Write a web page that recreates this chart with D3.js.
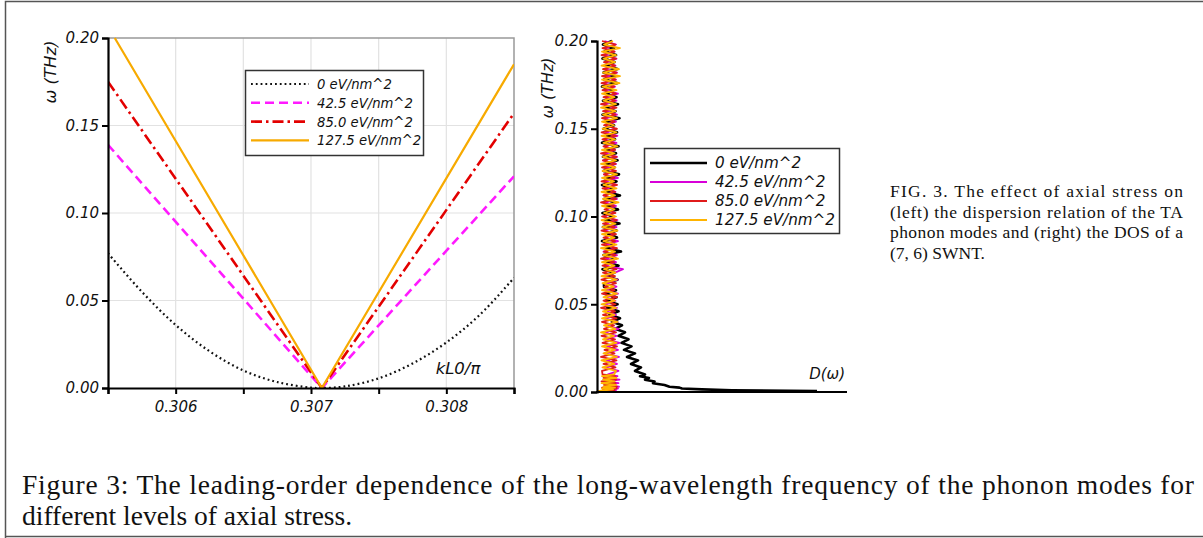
<!DOCTYPE html>
<html>
<head>
<meta charset="utf-8">
<script src="https://cdn.jsdelivr.net/npm/d3@7"></script>
<style>
  body { margin: 0; background: #fff; }
  svg text { font-family: 'DejaVu Sans', sans-serif; }
  .ax text { font-style: oblique; }
  .cap { font-family: 'Liberation Serif', 'Times New Roman', serif !important; fill: #111; }
</style>
</head>
<body>
<div id="app"></div>
<script>
(function (d3) {

  'use strict'

  // ---- left panel: dispersion relation ----
  const kTicks = [0.306, 0.307, 0.308]
  const kMinorTicks = [0.3055, 0.3065, 0.3075, 0.3085]
  const omegaTicks = [0, 0.05, 0.10, 0.15, 0.20]
  const stressLabels = ['0 eV/nm^2', '42.5 eV/nm^2', '85.0 eV/nm^2', '127.5 eV/nm^2']

  const kStress0 = [0.3055, 0.30575, 0.306, 0.30625, 0.3065, 0.30675, 0.307, 0.30708, 0.30725, 0.3075, 0.30775, 0.308, 0.30825, 0.3085]
  const wStress0 = [0.077, 0.055, 0.036, 0.021, 0.010, 0.0034, 0.0002, 0, 0.0009, 0.0055, 0.014, 0.026, 0.042, 0.063]
  const kStress1 = [0.3055, 0.30708, 0.3085]
  const wStress1 = [0.139, 0, 0.121]
  const kStress2 = [0.3055, 0.30708, 0.3085]
  const wStress2 = [0.175, 0, 0.157]
  const kStress3 = [0.30555, 0.30708, 0.3085]
  const wStress3 = [0.200, 0, 0.185]

  // ---- right panel: density of states ----
  const dosOmega = [0.0005, 0.001, 0.0015, 0.002, 0.0025, 0.003, 0.004, 0.005, 0.006, 0.007, 0.008, 0.009,
    0.010, 0.012, 0.014, 0.016, 0.018, 0.020, 0.022, 0.024, 0.026, 0.028, 0.030, 0.032, 0.034, 0.036, 0.038,
    0.040, 0.042, 0.044, 0.046, 0.048, 0.050, 0.052, 0.054, 0.056, 0.058, 0.060, 0.062, 0.064, 0.066, 0.068,
    0.070, 0.072, 0.074, 0.076, 0.078, 0.080, 0.082, 0.084, 0.086, 0.088, 0.090, 0.092, 0.094, 0.096, 0.098,
    0.100, 0.102, 0.104, 0.106, 0.108, 0.110, 0.112, 0.114, 0.116, 0.118, 0.120, 0.122, 0.124, 0.126, 0.128,
    0.130, 0.132, 0.134, 0.136, 0.138, 0.140, 0.142, 0.144, 0.146, 0.148, 0.150, 0.152, 0.154, 0.156, 0.158,
    0.160, 0.162, 0.164, 0.166, 0.168, 0.170, 0.172, 0.174, 0.176, 0.178, 0.180, 0.182, 0.184, 0.186, 0.188,
    0.190, 0.192, 0.194, 0.196, 0.198, 0.200]

  const dos0 = [44, 27, 21, 17, 16.5, 14.5, 13.5, 11.2, 11.5, 9.6, 10.4, 8.6, 9.6,
    7.6, 8.8, 6.8, 8.2, 6.0, 7.6, 5.4, 6.9, 4.9, 6.3, 4.3, 5.6, 3.6, 5.0, 3.0, 4.6, 2.5, 4.3, 2.0, 4.1, 1.8, 3.9, 1.5, 3.8, 1.4,
    1.4, 4.1, 1.9, 3.5, 1.1, 4.3, 2.0, 3.7, 1.3, 4.8, 1.7, 3.4, 1.0, 4.0, 2.2, 3.9, 1.2, 4.5, 1.6, 3.3,
    1.1, 4.2, 1.8, 3.6, 1.4, 4.6, 2.1, 3.2, 1.0, 3.9, 1.5, 4.4, 1.3, 3.5, 1.9, 4.1, 1.2, 3.8, 1.6, 4.3,
    1.0, 3.6, 2.0, 4.0, 1.3, 3.4, 1.7, 4.5, 1.1, 3.7, 1.5, 4.2, 1.2, 3.9, 1.8, 3.3, 1.0, 4.0, 1.4, 3.6,
    1.3, 4.1, 1.7, 3.5, 1.1, 3.8, 1.5, 3.4, 1.2, 3.0]
  const dos1 = [2.0, 3.8, 1.5, 4.2, 1.8, 4.4, 1.6, 4.3, 2.0, 4.5, 1.7, 4.1, 2.2,
    4.3, 1.6, 4.0, 1.9, 4.4, 1.5, 4.2, 2.0, 4.5, 1.7,
    3.9, 1.4, 4.3, 1.8, 4.1, 1.6, 3.8, 2.1, 4.0, 1.5,
    3.7, 1.9, 4.2, 1.4, 3.9, 1.7, 4.1, 1.3, 3.6, 5.2,
    1.5, 3.8, 1.8, 4.0, 1.3, 3.7, 1.9, 4.2, 1.6, 3.5,
    1.4, 3.9, 1.7, 4.1, 1.2, 3.6, 2.0, 3.8, 1.5, 4.0,
    1.3, 3.7, 1.8, 3.9, 1.6, 4.2, 1.4, 3.5, 1.9, 3.8,
    1.2, 4.0, 1.7, 3.6, 1.5, 3.9, 1.3, 4.1, 1.8, 3.7,
    1.6, 3.8, 1.4, 4.0, 1.9, 3.5, 1.3, 3.9, 1.7, 4.2,
    1.5, 3.6, 1.2, 3.8, 1.8, 4.0, 1.4, 3.7, 1.6, 3.9,
    1.3, 3.5, 1.7, 3.8, 1.5]
  const dos2 = [0.8, 3.5, 1.2, 3.9, 1.0, 4.0, 1.4, 3.7, 0.9, 3.8, 1.3, 3.6, 1.1,
    1.0, 3.7, 1.3, 3.9, 0.8, 3.5, 1.5, 4.0, 1.1, 3.6,
    0.9, 3.8, 1.4, 3.4, 1.0, 3.9, 1.2, 3.6, 0.8, 3.7,
    1.3, 4.0, 1.0, 3.5, 1.5, 3.8, 0.9, 3.6, 1.2, 3.9,
    1.1, 3.4, 0.8, 3.7, 1.4, 4.0, 1.0, 3.6, 1.3, 3.8,
    0.9, 3.5, 1.2, 3.9, 1.0, 3.7, 1.5, 3.4, 0.8, 3.8,
    1.3, 3.6, 1.1, 4.0, 0.9, 3.5, 1.4, 3.8, 1.0, 3.7,
    1.2, 3.9, 0.8, 3.6, 1.3, 3.4, 1.1, 3.8, 0.9, 4.0,
    1.4, 3.5, 1.0, 3.7, 1.2, 3.9, 0.8, 3.6, 1.3, 3.8,
    1.1, 3.4, 0.9, 3.7, 1.0,
    3.9, 1.2, 3.6, 1.4, 3.8, 0.9, 3.5, 1.1, 3.7, 1.0]
  const dos3 = [0.2, 1.5, 3.2, 1.0, 3.6, 1.3, 3.8, 0.9, 3.5, 1.2, 3.9, 1.0, 3.4,
    3.8, 1.1, 3.5, 0.9, 4.0, 1.3, 3.6, 1.0, 3.9, 1.2,
    3.4, 0.8, 3.7, 1.4, 4.1, 1.0, 3.5, 1.2, 3.8, 0.9,
    3.6, 1.3, 4.0, 1.0, 3.4, 1.1, 3.9, 0.9, 3.7, 1.4,
    3.5, 1.0, 4.2, 1.2, 3.6, 0.8, 3.9, 1.3, 3.5, 1.0,
    4.1, 1.1, 3.7, 0.9, 3.8, 1.4, 3.5, 1.0, 4.3, 1.2,
    3.6, 0.9, 3.9, 1.3, 3.4, 1.0, 4.0, 1.1, 3.7, 0.8,
    3.8, 1.2, 3.5, 1.0, 4.1, 1.3, 3.6, 0.9, 3.9, 1.1,
    3.4, 1.0, 4.0, 1.2, 3.7, 0.8, 3.8, 1.3, 3.5, 1.0,
    3.9, 1.1, 4.5, 1.0, 4.6, 1.2, 4.4, 0.9, 3.6, 1.3,
    3.8, 1.0, 4.6, 1.4, 3.2]

  const captionRight = ['FIG. 3. The effect of axial stress on', '(left) the dispersion relation of the TA',
    'phonon modes and (right) the DOS of a', '(7, 6) SWNT.']
  const captionBottom = ['Figure 3: The leading-order dependence of the long-wavelength frequency of the phonon modes for',
    'different levels of axial stress.']

  const W = 1203
  const H = 538

  const svg = d3.select('#app').append('svg')
    .attr('width', W)
    .attr('height', H)

  // frame around the figure
  svg.append('path')
    .attr('d', 'M5.5,538 V1.5 H1203 M5.5,536.5 H1203')
    .attr('fill', 'none')
    .attr('stroke', '#555')
    .attr('stroke-width', 1.5)

  // ---------- left panel ----------
  const lx = d3.scaleLinear().domain([0.3055, 0.3085]).range([108, 514])
  const ly = d3.scaleLinear().domain([0, 0.20]).range([388, 38])

  const left = svg.append('g')

  left.append('clipPath').attr('id', 'clipL')
    .append('rect').attr('x', 108).attr('y', 37).attr('width', 406).attr('height', 352)

  // grid
  left.append('g').selectAll('line')
    .data(kTicks.concat(kMinorTicks.slice(1, 3)))
    .enter().append('line')
    .attr('x1', d => lx(d)).attr('x2', d => lx(d))
    .attr('y1', ly(0)).attr('y2', ly(0.2))
    .attr('stroke', '#e2e2e2').attr('stroke-width', 1.2)
  left.append('g').selectAll('line')
    .data(omegaTicks.slice(1, 4))
    .enter().append('line')
    .attr('x1', lx(0.3055)).attr('x2', lx(0.3085))
    .attr('y1', d => ly(d)).attr('y2', d => ly(d))
    .attr('stroke', '#e2e2e2').attr('stroke-width', 1.2)

  // box top / right
  left.append('path')
    .attr('d', `M${lx(0.3055)},${ly(0.2)} H${lx(0.3085)} V${ly(0)}`)
    .attr('fill', 'none').attr('stroke', '#999').attr('stroke-width', 1.5)

  const lineL = d3.line().x(d => lx(d[0])).y(d => ly(d[1]))
  const curvesL = [
    { k: kStress0, w: wStress0, color: '#111', width: 2.2, dash: '1.8,3', curve: d3.curveCatmullRom },
    { k: kStress1, w: wStress1, color: '#ff1aff', width: 2.6, dash: '9,5', curve: d3.curveLinear },
    { k: kStress2, w: wStress2, color: '#e30000', width: 2.6, dash: '11,4,2.5,4', curve: d3.curveLinear },
    { k: kStress3, w: wStress3, color: '#f7aa00', width: 2.2, dash: null, curve: d3.curveLinear }
  ]
  curvesL.forEach(function (c) {
    left.append('path')
      .attr('clip-path', 'url(#clipL)')
      .attr('d', lineL.curve(c.curve)(d3.zip(c.k, c.w)))
      .attr('fill', 'none')
      .attr('stroke', c.color)
      .attr('stroke-width', c.width)
      .attr('stroke-dasharray', c.dash)
  })

  // axes
  const axL = left.append('g').attr('class', 'ax')
    .attr('transform', `translate(0,${ly(0)})`)
    .call(d3.axisBottom(lx).tickValues(kTicks.concat(kMinorTicks)).tickSize(6)
      .tickFormat(d => kTicks.indexOf(d) >= 0 ? d3.format('.3f')(d) : ''))
  const ayL = left.append('g').attr('class', 'ax')
    .attr('transform', `translate(${lx(0.3055)},0)`)
    .call(d3.axisLeft(ly).tickValues(omegaTicks).tickSize(6).tickFormat(d3.format('.2f')))
  ;[axL, ayL].forEach(function (a) {
    a.select('.domain').attr('stroke', '#000').attr('stroke-width', 2.2)
    a.selectAll('.tick line').attr('stroke', '#000').attr('stroke-width', 2)
    a.selectAll('.tick text').attr('font-size', 15).attr('fill', '#111')
  })
  axL.selectAll('.tick text').attr('dy', '1.0em')

  left.append('text')
    .attr('transform', 'translate(56,72) rotate(-90)')
    .attr('text-anchor', 'middle')
    .attr('font-size', 16.5).attr('font-style', 'oblique').attr('fill', '#111')
    .text('ω (THz)')
  left.append('text')
    .attr('x', 458).attr('y', 374)
    .attr('text-anchor', 'middle')
    .attr('font-size', 16.5).attr('font-style', 'oblique').attr('fill', '#111')
    .text('kL0/π')

  // legend left
  const legL = left.append('g')
  legL.append('rect').attr('x', 245.5).attr('y', 70.5).attr('width', 178).attr('height', 85)
    .attr('fill', '#fff').attr('stroke', '#333').attr('stroke-width', 1.5)
  curvesL.forEach(function (c, i) {
    const y = 84 + i * 18.8
    legL.append('line')
      .attr('x1', 251).attr('x2', 309).attr('y1', y).attr('y2', y)
      .attr('stroke', c.color).attr('stroke-width', c.width).attr('stroke-dasharray', c.dash)
    legL.append('text')
      .attr('x', 317).attr('y', y + 5)
      .attr('font-size', 13.2).attr('font-style', 'oblique').attr('fill', '#111')
      .text(stressLabels[i])
  })

  // ---------- right panel ----------
  const rx = d3.scaleLinear().domain([0, 50]).range([597, 847])
  const ry = d3.scaleLinear().domain([0, 0.20]).range([392, 41])

  const right = svg.append('g')
  const lineR = d3.line().x(d => rx(d[0])).y(d => ry(d[1]))
  const seriesR = [
    { d: dos0, color: '#000', width: 2.6 },
    { d: dos1, color: '#d800d8', width: 1.8 },
    { d: dos2, color: '#e01b1b', width: 1.8 },
    { d: dos3, color: '#ffb400', width: 1.8 }
  ]
  seriesR.forEach(function (s) {
    right.append('path')
      .attr('d', lineR(d3.zip(s.d, dosOmega)))
      .attr('fill', 'none')
      .attr('stroke', s.color)
      .attr('stroke-width', s.width)
      .attr('stroke-linejoin', 'round')
  })

  const ayR = right.append('g').attr('class', 'ax')
    .attr('transform', `translate(${rx(0)},0)`)
    .call(d3.axisLeft(ry).tickValues(omegaTicks).tickSize(6).tickFormat(d3.format('.2f')))
  ayR.select('.domain').attr('stroke', '#000').attr('stroke-width', 2.2)
  ayR.selectAll('.tick line').attr('stroke', '#000').attr('stroke-width', 2)
  ayR.selectAll('.tick text').attr('font-size', 15).attr('fill', '#111')
  right.append('line')
    .attr('x1', rx(0) - 1).attr('x2', rx(50)).attr('y1', ry(0)).attr('y2', ry(0))
    .attr('stroke', '#000').attr('stroke-width', 2.2)

  right.append('text')
    .attr('transform', 'translate(553,88) rotate(-90)')
    .attr('text-anchor', 'middle')
    .attr('font-size', 16).attr('font-style', 'oblique').attr('fill', '#111')
    .text('ω (THz)')
  right.append('text')
    .attr('x', 845).attr('y', 379)
    .attr('text-anchor', 'end')
    .attr('font-size', 15).attr('font-style', 'oblique').attr('fill', '#111')
    .text('D(ω)')

  const legR = right.append('g')
  legR.append('rect').attr('x', 644.5).attr('y', 148.5).attr('width', 195).attr('height', 85)
    .attr('fill', '#fff').attr('stroke', '#333').attr('stroke-width', 1.5)
  seriesR.forEach(function (s, i) {
    const y = 163 + i * 19
    legR.append('line')
      .attr('x1', 650).attr('x2', 707).attr('y1', y).attr('y2', y)
      .attr('stroke', s.color).attr('stroke-width', i === 0 ? 2.6 : 2.2)
    legR.append('text')
      .attr('x', 715).attr('y', y + 5)
      .attr('font-size', 15.2).attr('font-style', 'oblique').attr('fill', '#111')
      .text(stressLabels[i])
  })

  // ---------- captions ----------
  captionRight.forEach(function (t, i) {
    const txt = svg.append('text').attr('class', 'cap')
      .attr('x', 890).attr('y', 197 + i * 20.5)
      .attr('font-size', 17.5)
      .text(t)
    if (i < 3) txt.attr('textLength', 293).attr('lengthAdjust', 'spacing')
  })
  captionBottom.forEach(function (t, i) {
    const txt = svg.append('text').attr('class', 'cap')
      .attr('x', 22).attr('y', 494 + i * 31)
      .attr('font-size', 27.5)
      .text(t)
    if (i === 0) txt.attr('textLength', 1172).attr('lengthAdjust', 'spacing')
  })

}(d3))
</script>
</body>
</html>
